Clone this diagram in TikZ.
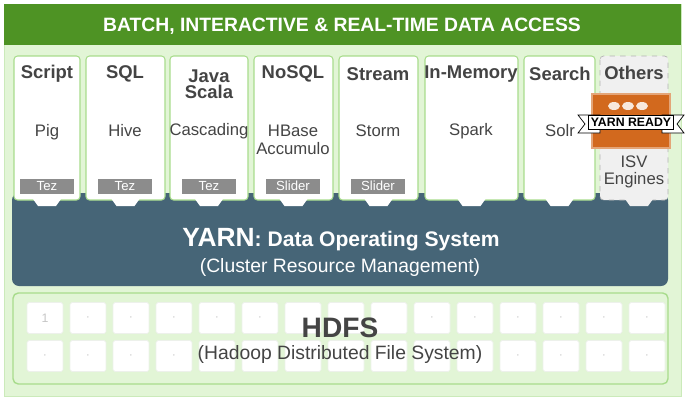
\documentclass[tikz,border=0pt]{standalone}
\usepackage{fontspec}
\setmainfont{Liberation Sans}
\usetikzlibrary{positioning}
\definecolor{barGreen}{HTML}{4E9324}
\definecolor{paleGreen}{HTML}{E2F5D6}
\definecolor{lineGreen}{HTML}{A8DC8C}
\definecolor{yarnBlue}{HTML}{466577}
\definecolor{textGrey}{HTML}{444444}
\definecolor{tagGrey}{HTML}{8C8C8C}
\definecolor{badge}{HTML}{D2691E}
\begin{document}
\begin{tikzpicture}[x=0.02cm, y=-0.02cm,
    card/.style={draw=lineGreen, fill=white, rounded corners=2pt, line width=0.6pt},
    head/.style={font=\bfseries\fontsize{10.5}{11}\selectfont, text=textGrey, align=center},
    engine/.style={font=\fontsize{9.5}{11}\selectfont, text=textGrey, align=center},
    tag/.style={fill=tagGrey, text=white, font=\fontsize{7.5}{8}\selectfont, minimum width=1.1cm, minimum height=0.3cm, inner sep=0pt},
    cell/.style={draw=paleGreen!70!gray!30, fill=white, rounded corners=1pt, minimum width=0.72cm, minimum height=0.62cm, inner sep=0pt, text=gray!45, font=\scriptsize}]
\useasboundingbox (0,0) rectangle (693,400);

% background and top bar ---
\fill[paleGreen, draw=lineGreen!60] (4,4) rectangle (681,396);
\fill[barGreen] (4,4) rectangle (681,45);
\node[text=white, font=\bfseries\fontsize{11}{12}\selectfont] (access) at (342,26) {BATCH, INTERACTIVE \& REAL-TIME DATA ACCESS};

% yarn band ---
\fill[yarnBlue, rounded corners=4pt] (12,193) rectangle (668,286);

% engine cards ---
\foreach \nm/\xa/\xb in {script/14/80, sql/86/165, java/170/248, nosql/254/333, stream/339/418, memory/425/518, search/524/595}{
  \draw[card] (\xa,56) rectangle (\xb,200);
  \fill[white] ({(\xa+\xb)/2-14},199) -- ({(\xa+\xb)/2+14},199) -- ({(\xa+\xb)/2+9},206) -- ({(\xa+\xb)/2-9},206) -- cycle;
}
\draw[dashed, draw=gray!60, fill=gray!12, rounded corners=2pt] (600,56) rectangle (668,200);
\fill[gray!12] (625,199) -- (653,199) -- (648,206) -- (630,206) -- cycle;

\node[head] (script) at (47,74) {Script};
\node[head] (sql) at (125,74) {SQL};
\node[head] (java) at (209,84) {Java\\[-2pt]Scala};
\node[head] (nosql) at (293,74) {NoSQL};
\node[head] (stream) at (378,74) {Stream};
\node[head] (memory) at (471,74) {In-Memory};
\node[head] (search) at (560,74) {Search};
\node[head] (others) at (634,73) {Others};

\node[engine] (pig) at (47,132) {Pig};
\node[engine] (hive) at (125,131) {Hive};
\node[engine] (cascading) at (209,131) {Cascading};
\node[engine] (hbase) at (293,140) {HBase\\[-1pt]Accumulo};
\node[engine] (storm) at (378,131) {Storm};
\node[engine] (spark) at (471,131) {Spark};
\node[engine] (solr) at (560,131) {Solr};
\node[engine] (isv) at (634,172) {ISV\\[-1pt]Engines};

\node[tag] (tez1) at (47,186) {Tez};
\node[tag] (tez2) at (125,186) {Tez};
\node[tag] (tez3) at (209,186) {Tez};
\node[tag] (slider1) at (293,186) {Slider};
\node[tag] (slider2) at (378,186) {Slider};

% yarn ready badge ---
\draw[badge!60, fill=badge, line width=1pt] (592,94) rectangle (670,148);
\draw[black, fill=white] (578,115) -- (600,115) -- (600,133) -- (578,133) -- (585,124) -- cycle;
\draw[black, fill=white] (684,115) -- (662,115) -- (662,133) -- (684,133) -- (677,124) -- cycle;
\node[draw=black, fill=white, font=\bfseries\fontsize{7}{7}\selectfont, inner sep=1.5pt] (ready) at (631,122) {YARN READY};
\foreach \ex in {614,628,642}{
  \fill[white!85!badge] (\ex,106) ellipse (6 and 4);
}

\node[text=white, font=\fontsize{15}{18}\selectfont] (yarn) at (341,240) {\textbf{YARN}\textbf{\fontsize{12}{15}\selectfont: Data Operating System}};
\node[text=white, font=\fontsize{11}{13}\selectfont] (crm) at (340,267) {(Cluster Resource Management)};

% hdfs ---
\draw[lineGreen, fill=paleGreen, line width=0.8pt, rounded corners=3pt] (13,293) rectangle (668,384);
\foreach \i in {0,...,14}{
  \node[cell] (ca\i) at ({45+43*\i},318) {\ifnum\i=0 1\else\ifnum\i<6 $\cdot$\else\ifnum\i>8 $\cdot$\fi\fi\fi};
  \node[cell] (cb\i) at ({45+43*\i},356) {\ifnum\i<4 $\cdot$\else\ifnum\i>10 $\cdot$\fi\fi};
}
\node[text=textGrey, font=\bfseries\fontsize{16}{18}\selectfont] (hdfs) at (340,328) {HDFS};
\node[text=textGrey, font=\fontsize{11}{13}\selectfont] (hdfsfull) at (340,354) {(Hadoop Distributed File System)};
\end{tikzpicture}
\end{document}
